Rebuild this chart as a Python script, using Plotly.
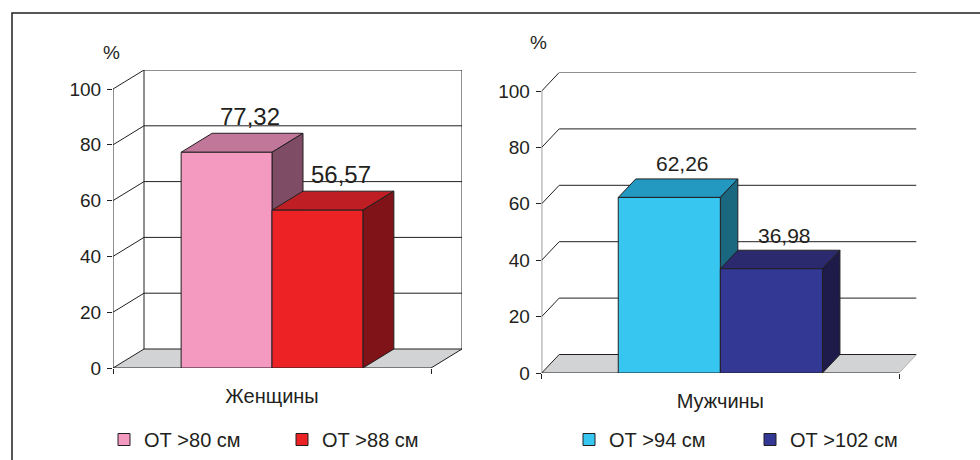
import plotly.graph_objects as go

# ---------------- data ----------------
categories = ["Женщины", "Мужчины"]
series_women = ["ОТ >80 см", "ОТ >88 см"]
values_women = [77.32, 56.57]
series_men = ["ОТ >94 см", "ОТ >102 см"]
values_men = [62.26, 36.98]
y_ticks = [0, 20, 40, 60, 80, 100]
y_unit = "%"

# ---------------- style / layout ----------------
W, H = 980, 460
INK = "#231f20"
FONT = "Liberation Sans, Arial, sans-serif"
FLOOR = "#d1d3d4"

panels = [
    dict(cat=categories[0], names=series_women, values=values_women,
         front=["#f49ac1", "#ed2224"], top=["#c0779a", "#be1e24"], side=["#7f4c66", "#7f1317"],
         ax_left=113, floor_right=431, y0_px=368, y100_px=89, dx_px=31, dy_px=19,
         box=True, floor_right_edge=INK, label_size=24, label_shift=17,
         pct=(111, 52), legend_x=104, entrywidth=133),
    dict(cat=categories[1], names=series_men, values=values_men,
         front=["#37c6f0", "#333894"], top=["#2398c0", "#2b2a6e"], side=["#1a6880", "#1e1b4b"],
         ax_left=541.7, floor_right=899, y0_px=373, y100_px=91, dx_px=17.5, dy_px=18.5,
         box=False, floor_right_edge="#b0b0b0", label_size=21, label_shift=15,
         pct=(538, 42), legend_x=569, entrywidth=136),
]

fig = go.Figure()
shapes = []
annotations = []
layout_axes = {}

for i, p in enumerate(panels):
    sfx = "" if i == 0 else str(i + 1)
    xa, ya = "x" + sfx, "y" + sfx
    legend_name = "legend" + sfx

    xpx = p["floor_right"] - p["ax_left"]          # pixels per x unit
    ypx = (p["y0_px"] - p["y100_px"]) / 100.0      # pixels per y unit
    dx = p["dx_px"] / xpx
    dy = p["dy_px"] / ypx
    ymax = max(y_ticks)

    layout_axes["xaxis" + sfx] = dict(
        domain=[p["ax_left"] / W, (p["floor_right"] + p["dx_px"]) / W],
        range=[-0.5, 0.5 + dx], showgrid=False, zeroline=False, showline=False,
        tickvals=[0], ticktext=[p["cat"]], ticks="", ticklabelstandoff=14,
        tickfont=dict(size=20, color=INK, family=FONT),
        minor=dict(tickvals=[-0.5, 0.5], ticks="outside", ticklen=5, tickcolor=INK,
                   tickwidth=1, showgrid=False),
        anchor=ya, fixedrange=True, automargin=False,
    )
    layout_axes["yaxis" + sfx] = dict(
        domain=[(H - p["y0_px"]) / H, (H - (p["y100_px"] - p["dy_px"])) / H],
        range=[0, ymax + dy], showgrid=False, zeroline=False, showline=False,
        tickvals=y_ticks, ticks="outside", ticklen=5, tickcolor=INK, tickwidth=1,
        tickfont=dict(size=19, color=INK, family=FONT), ticklabelstandoff=2,
        anchor=xa, fixedrange=True, automargin=False,
    )

    def line(x0, y0, x1, y1, color=INK, width=1):
        shapes.append(dict(type="line", xref=xa, yref=ya, x0=x0, y0=y0, x1=x1, y1=y1,
                           line=dict(color=color, width=width), layer="below"))

    def poly(pts, fill, outline=INK, width=1):
        path = "M " + " L ".join(f"{x},{y}" for x, y in pts) + " Z"
        shapes.append(dict(type="path", xref=xa, yref=ya, path=path, fillcolor=fill,
                           line=dict(color=outline, width=width), layer="below"))

    # floor
    poly([(-0.5, 0), (0.5, 0), (0.5 + dx, dy), (-0.5 + dx, dy)], FLOOR, outline="rgba(0,0,0,0)", width=0)
    line(0.5, 0, 0.5 + dx, dy, color=p["floor_right_edge"])
    # back-wall gridlines + side-wall diagonals
    for t in y_ticks:
        line(-0.5 + dx, t + dy, 0.5 + dx, t + dy)
        line(-0.5, t, -0.5 + dx, t + dy)
    if p["box"]:
        line(-0.5 + dx, dy, -0.5 + dx, ymax + dy)
        line(0.5 + dx, dy, 0.5 + dx, ymax + dy)
    # front axis and floor front edge
    line(-0.5, 0, -0.5, ymax)
    line(-0.5, 0, 0.5, 0)

    n = len(p["values"])
    w = 1.0 / (n + 1.5)
    for k, (name, v) in enumerate(zip(p["names"], p["values"])):
        c = -n * w / 2 + w * (k + 0.5)
        x0, x1 = c - w / 2, c + w / 2
        fig.add_trace(go.Bar(
            x=[c], y=[v], width=[w], name=name, xaxis=xa, yaxis=ya,
            marker=dict(color=p["front"][k], line=dict(color=INK, width=1)),
            legend=legend_name, hoverinfo="name+y",
        ))
        # top face and side face
        poly([(x0, v), (x1, v), (x1 + dx, v + dy), (x0 + dx, v + dy)], p["top"][k])
        poly([(x1, 0), (x1, v), (x1 + dx, v + dy), (x1 + dx, dy)], p["side"][k])
        annotations.append(dict(
            xref=xa, yref=ya, x=c + 0.75 * dx, y=v + dy, yshift=p["label_shift"],
            text=f"{v:.2f}".replace(".", ","), showarrow=False, yanchor="middle",
            font=dict(size=p["label_size"], color=INK, family=FONT),
        ))

    # unit label
    annotations.append(dict(xref="paper", yref="paper", x=p["pct"][0] / W, y=(H - p["pct"][1]) / H,
                            text=y_unit, showarrow=False, xanchor="center", yanchor="middle",
                            font=dict(size=19, color=INK, family=FONT)))

    layout_axes[legend_name] = dict(
        x=p["legend_x"] / W, y=(H - 439.5) / H, xanchor="left", yanchor="middle",
        orientation="h", entrywidth=p["entrywidth"], bgcolor="rgba(0,0,0,0)",
        font=dict(size=20, color=INK, family=FONT), itemclick=False, itemdoubleclick=False,
    )

# outer frame
shapes.append(dict(type="rect", xref="paper", yref="paper", x0=12 / W, y0=-0.2, x1=1.2,
                   y1=(H - 13) / H, line=dict(color=INK, width=1.5), layer="below"))

fig.update_layout(
    width=W, height=H, margin=dict(l=0, r=0, t=0, b=0, autoexpand=False),
    paper_bgcolor="white", plot_bgcolor="rgba(0,0,0,0)",
    font=dict(family=FONT, color=INK), barmode="overlay", showlegend=True,
    shapes=shapes, annotations=annotations, **layout_axes,
)

fig.write_html("out.html")
